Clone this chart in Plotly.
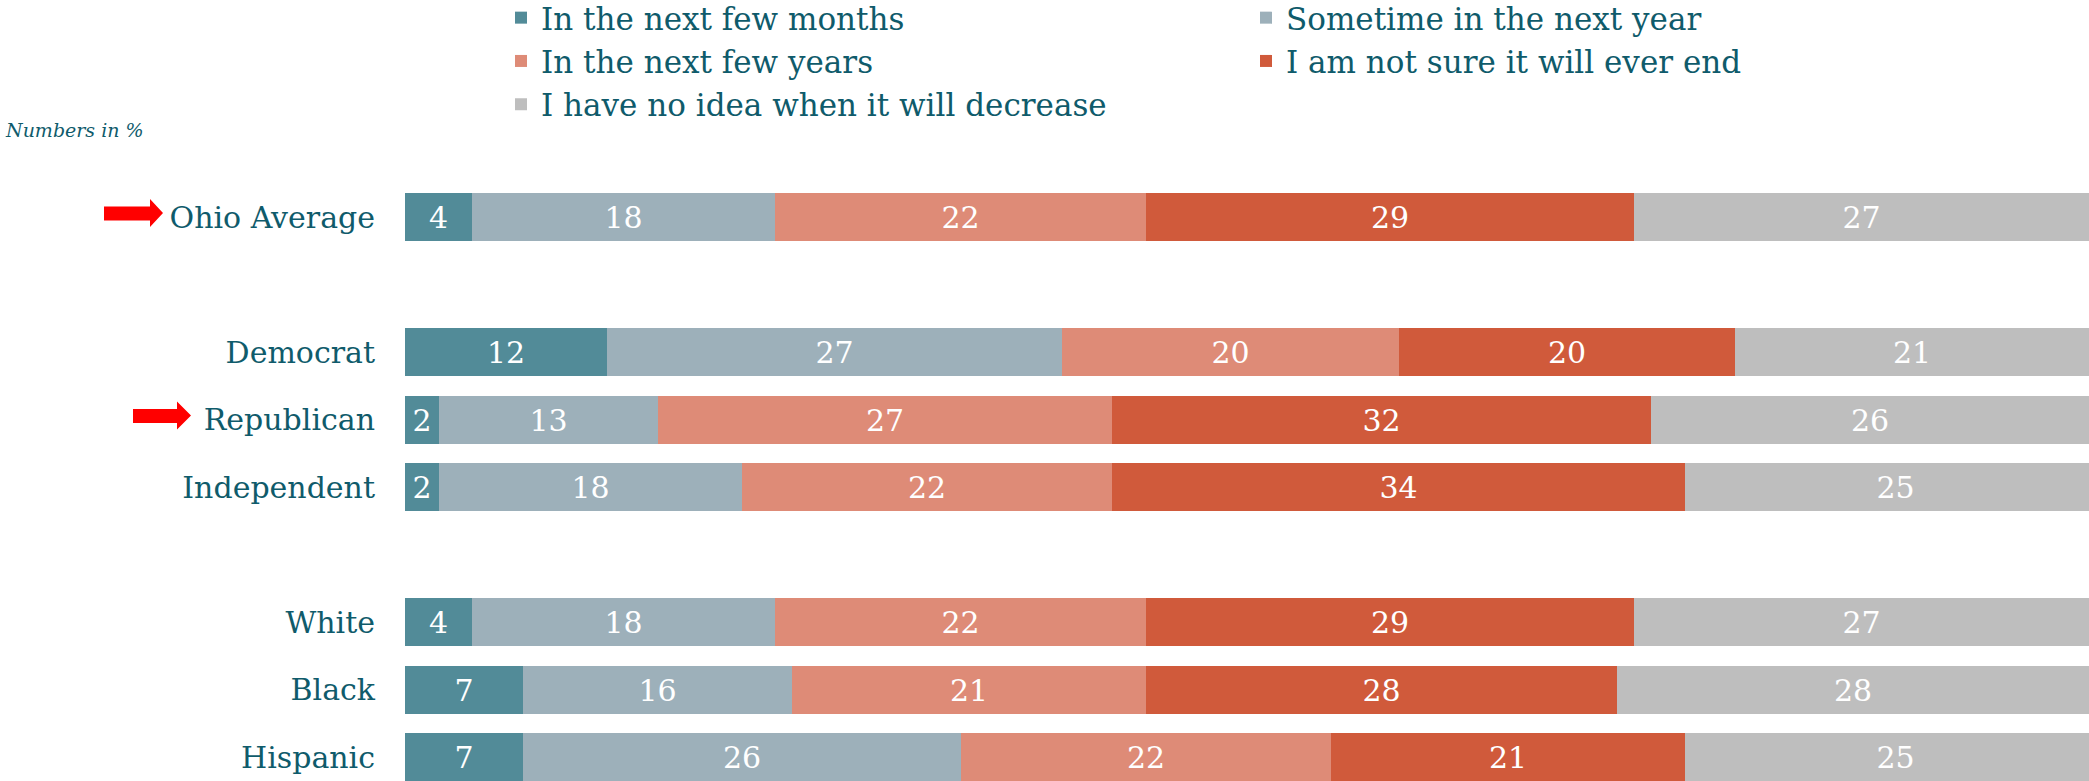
import plotly.graph_objects as go

# ---- data ----
categories = ["Ohio Average", "Democrat", "Republican", "Independent", "White", "Black", "Hispanic"]
row_pos = [0, 2, 3, 4, 6, 7, 8]
series_names = ["In the next few months", "Sometime in the next year", "In the next few years",
                "I am not sure it will ever end", "I have no idea when it will decrease"]
next_few_months = [4, 12, 2, 2, 4, 7, 7]
next_year = [18, 27, 13, 18, 18, 16, 26]
next_few_years = [22, 20, 27, 22, 22, 21, 22]
not_sure_ever_end = [29, 20, 32, 34, 29, 28, 21]
no_idea = [27, 21, 26, 25, 27, 28, 25]
arrow_rows = ["Ohio Average", "Republican"]

colors = ["#528B98", "#9DB0BA", "#DE8B77", "#D05A3B", "#BEBEBE"]
FONT = "DejaVu Serif, serif"
TEXT_COLOR = "#0F5B6B"

W, H = 2089, 781
ML, MT = 405, 150
plot_h = H - MT
Y_BOTTOM = 8.355
Y_TOP = Y_BOTTOM - plot_h / 67.5

fig = go.Figure()
for name, vals, col in zip(series_names,
                           [next_few_months, next_year, next_few_years, not_sure_ever_end, no_idea],
                           colors):
    fig.add_trace(go.Bar(
        name=name, y=row_pos, x=vals, orientation="h",
        marker=dict(color=col, line=dict(width=0)),
        text=[str(v) for v in vals], textposition="inside", insidetextanchor="middle",
        textangle=0, insidetextfont=dict(color="white", size=30, family=FONT),
        width=0.71, hoverinfo="skip",
    ))

# red arrows pointing at highlighted rows (pixel-sized shapes, anchored in paper space)
arrow_geom = {"Ohio Average": (-301, -255, -242), "Republican": (-272, -228, -214)}
for r in arrow_rows:
    tail, base, tip = arrow_geom[r]
    yp = row_pos[categories.index(r)]
    y_paper = (Y_BOTTOM - yp) / (Y_BOTTOM - Y_TOP)
    path = (f"M{tail},-3.5 L{base},-3.5 L{base},-10 L{tip},4 L{base},18 L{base},10.5 L{tail},10.5 Z")
    fig.add_shape(type="path", path=path, xref="paper", yref="paper",
                  xsizemode="pixel", ysizemode="pixel", xanchor=0, yanchor=y_paper,
                  fillcolor="#FF0000", line=dict(width=0), layer="above")

fig.add_annotation(text="<i>Numbers in %</i>", xref="paper", yref="paper",
                   x=(3 - ML) / (W - ML), y=1 + (MT - 130) / plot_h,
                   xanchor="left", yanchor="middle", showarrow=False,
                   font=dict(size=19, color=TEXT_COLOR, family=FONT))

fig.update_layout(
    width=W, height=H,
    margin=dict(l=ML, r=0, t=MT, b=0, pad=0, autoexpand=False),
    paper_bgcolor="white", plot_bgcolor="white",
    barmode="stack", bargap=0,
    uniformtext=dict(minsize=30, mode="show"),
    font=dict(family=FONT, color=TEXT_COLOR, size=30),
    showlegend=True,
    legend=dict(orientation="h", x=(501 - ML) / (W - ML), xanchor="left",
                y=1 + (MT + 9) / plot_h, yanchor="top",
                entrywidth=700, entrywidthmode="pixels",
                font=dict(size=31, color=TEXT_COLOR, family=FONT),
                traceorder="normal", bgcolor="rgba(0,0,0,0)"),
    xaxis=dict(range=[0, 100], visible=False, fixedrange=True, automargin=False),
    yaxis=dict(range=[Y_BOTTOM, Y_TOP], tickvals=row_pos, ticktext=categories,
               showgrid=False, zeroline=False, showline=False, ticks="", automargin=False,
               ticklabelstandoff=29, tickfont=dict(size=30, color=TEXT_COLOR, family=FONT)),
)

fig.write_html("out.html", config={"displayModeBar": False},
               post_script="document.body.style.margin='0';document.body.style.overflow='hidden';")
